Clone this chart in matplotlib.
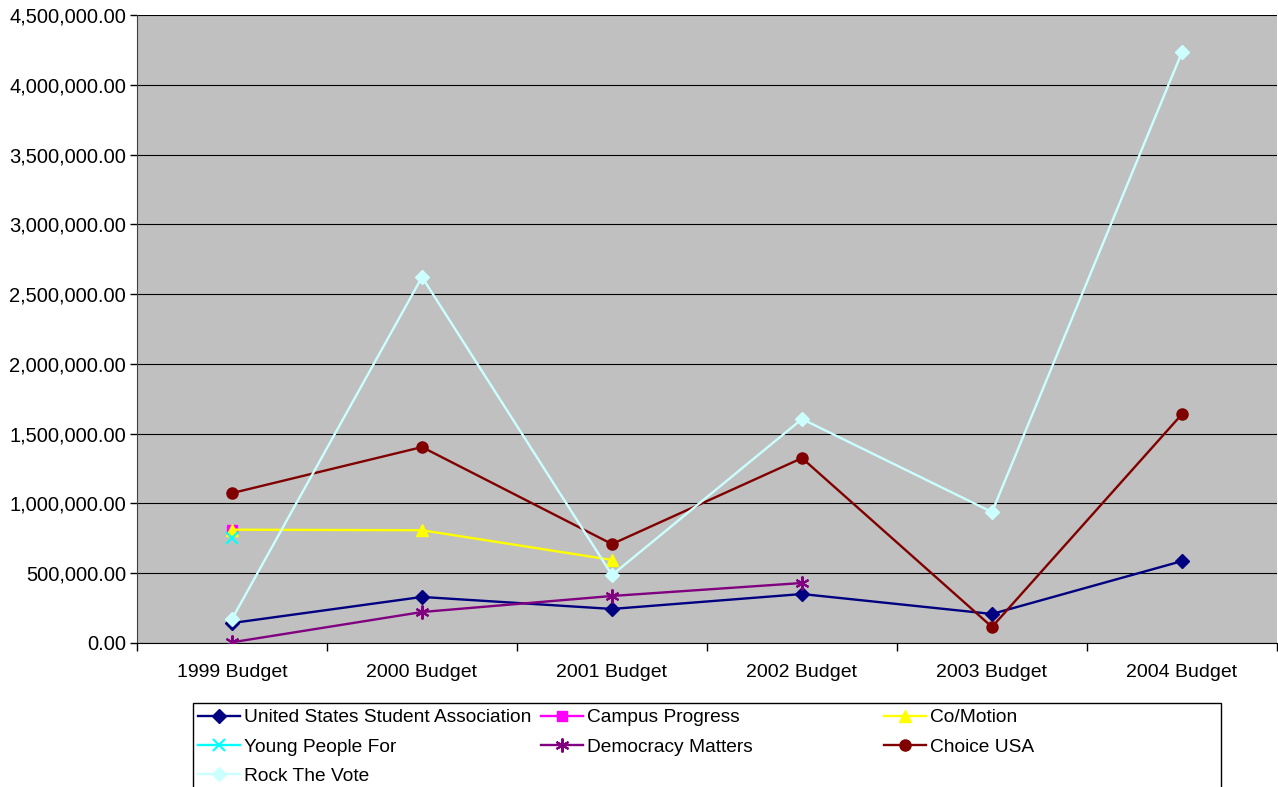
import matplotlib
matplotlib.use("Agg")
import matplotlib.pyplot as plt
from matplotlib.ticker import FuncFormatter, FixedLocator
from matplotlib.patches import Rectangle
import numpy as np

plt.rcParams['font.family'] = ['Liberation Sans', 'DejaVu Sans']

categories = ["1999 Budget", "2000 Budget", "2001 Budget", "2002 Budget", "2003 Budget", "2004 Budget"]

ussa = [143000, 330000, 244000, 351000, 208000, 587000]
campus_progress = [810000, None, None, None, None, None]
co_motion = [812000, 808000, 595000, None, None, None]
young_people_for = [752000, None, None, None, None, None]
democracy_matters = [5000, 222000, 337000, 430000, None, None]
choice_usa = [1074000, 1404000, 709000, 1325000, 115000, 1640000]
rock_the_vote = [172000, 2622000, 487000, 1605000, 938000, 4234000]

series = [
    ("United States Student Association", ussa, "#000080", "D", 7),
    ("Campus Progress", campus_progress, "#FF00FF", "s", 7),
    ("Co/Motion", co_motion, "#FFFF00", "^", 8),
    ("Young People For", young_people_for, "#00FFFF", "x", 8),
    ("Democracy Matters", democracy_matters, "#800080", (6, 2, 0), 10),
    ("Choice USA", choice_usa, "#800000", "o", 8),
    ("Rock The Vote", rock_the_vote, "#CCFFFF", "D", 7),
]

fig = plt.figure(figsize=(12.78, 7.87), dpi=100)
ax = fig.add_axes([137/1278, 1-643/787, (1277-137)/1278, (643-15)/787])
ax.set_facecolor("#C0C0C0")

x = np.arange(len(categories)) + 0.5
handles = {}
for name, vals, color, marker, ms in series:
    y = np.array([np.nan if v is None else v for v in vals], dtype=float)
    mew = 1.5 if marker in ("x", (6, 2, 0)) else 1
    h, = ax.plot(x, y, color=color, lw=1.7, marker=marker, markersize=ms,
                 markerfacecolor=color, markeredgecolor=color, markeredgewidth=mew,
                 label=name, zorder=3)
    handles[name] = h

ax.set_xlim(0, len(categories))
ax.set_ylim(0, 4500000)
ax.yaxis.set_major_locator(FixedLocator(np.arange(0, 4500001, 500000)))
ax.yaxis.set_major_formatter(FuncFormatter(lambda v, p: f"{v:,.2f}"))
ax.grid(axis="y", color="#000000", lw=0.8, zorder=1)
ax.set_axisbelow(True)

ax.set_xticks(np.arange(0, len(categories) + 1))
ax.set_xticklabels([])
ax.set_xticks(x, minor=True)
ax.set_xticklabels(categories, minor=True)
ax.tick_params(axis="x", which="major", direction="out", length=6, color="#000000", width=1)
ax.tick_params(axis="x", which="minor", length=0, pad=15, labelsize=14)
ax.tick_params(axis="y", direction="out", length=5, color="#000000", width=1, labelsize=14.5, pad=3)

for s in ["top", "right"]:
    ax.spines[s].set_visible(False)
ax.spines["left"].set_color("#404040")
ax.spines["bottom"].set_color("#000000")

# Legend frame
fig.patches.append(Rectangle((193/1278, -0.01), (1221-193)/1278, 1-703/787 + 0.01,
                             transform=fig.transFigure, fill=False, edgecolor="#000000",
                             lw=1, zorder=1))

columns = [
    ["United States Student Association", "Young People For", "Rock The Vote"],
    ["Campus Progress", "Democracy Matters"],
    ["Co/Motion", "Choice USA"],
]
col_x = [194/1278, 537/1278, 880/1278]
for cx, names in zip(col_x, columns):
    leg = fig.legend([handles[n] for n in names], names, loc="upper left",
                     bbox_to_anchor=(cx, 1-705/787), frameon=False,
                     fontsize=13.8, handlelength=2.2, handletextpad=0.2,
                     labelspacing=0.62, borderpad=0.2, borderaxespad=0)

fig.savefig("out.png", dpi=100)
